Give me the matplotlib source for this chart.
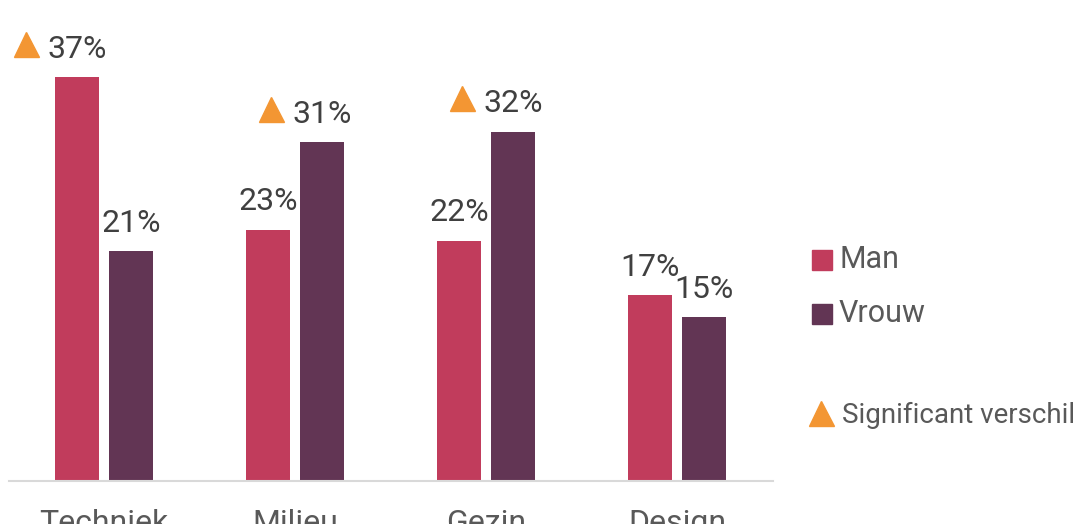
import matplotlib.pyplot as plt
from matplotlib.lines import Line2D
from matplotlib.transforms import ScaledTranslation
import numpy as np

plt.rcParams['font.family'] = ['Roboto', 'DejaVu Sans']

categories = ['Techniek', 'Milieu', 'Gezin', 'Design']
man = [37, 23, 22, 17]
vrouw = [21, 31, 32, 15]
# significant difference marker per bar
sig_man = [True, False, False, False]
sig_vrouw = [False, True, True, False]

c_man = '#C13C5C'
c_vrouw = '#623554'
c_sig = '#F39633'
c_text = '#404040'

W, H = 1075, 524
fig = plt.figure(figsize=(W / 100, H / 100), dpi=100)
ax = fig.add_axes([8.5 / W, (H - 480.5) / H, 764 / W, 480.5 / H])

x = np.arange(len(categories))
bw = 44 / 191
off = 27 / 191
b1 = ax.bar(x - off, man, bw, color=c_man)
b2 = ax.bar(x + off, vrouw, bw, color=c_vrouw)

ax.set_xlim(-0.5, len(categories) - 0.5)
ax.set_ylim(0, 480.5 / 10.905)

tri_shift = ScaledTranslation(-36.7 / 72, 23.8 / 72, fig.dpi_scale_trans)

# value labels and significance triangles
for bars, vals, sig in [(b1, man, sig_man), (b2, vrouw, sig_vrouw)]:
    for b, v, s in zip(bars, vals, sig):
        cx = b.get_x() + b.get_width() / 2
        ax.annotate(f'{v}%', (cx, v), xytext=(0, 20), textcoords='offset points',
                    ha='center', va='center', fontsize=23, color=c_text)
        if s:
            ax.plot([cx], [v], marker='^', ms=18, color=c_sig, linestyle='none',
                    transform=ax.transData + tri_shift, clip_on=False)

# category labels (cut off by the bottom edge, as in the original)
for i, c in enumerate(categories):
    ax.annotate(c, (i, 0), xytext=(0, -20.2), textcoords='offset points',
                ha='center', va='top', fontsize=23, color='#595959', annotation_clip=False)

for s in ['top', 'right', 'left']:
    ax.spines[s].set_visible(False)
ax.spines['bottom'].set_color('#D9D9D9')
ax.spines['bottom'].set_linewidth(1.5)
ax.set_xticks([])
ax.set_yticks([])

# legend drawn by hand
def fx(px):
    return px / W

def fy(py):
    return 1 - py / H

for py, col, lab in [(260, c_man, 'Man'), (314, c_vrouw, 'Vrouw')]:
    fig.add_artist(Line2D([fx(822)], [fy(py)], marker='s', ms=14.4, color=col,
                          linestyle='none', transform=fig.transFigure))
    fig.text(fx(839), fy(py), lab, fontsize=22, color='#595959', va='center', ha='left')

fig.add_artist(Line2D([fx(820.5)], [fy(413)], marker='^', ms=18, color=c_sig,
                      linestyle='none', transform=fig.transFigure))
fig.text(fx(842), fy(415), 'Significant verschil', fontsize=20, color='#595959',
         va='center', ha='left')

fig.savefig('out.png', dpi=100)
